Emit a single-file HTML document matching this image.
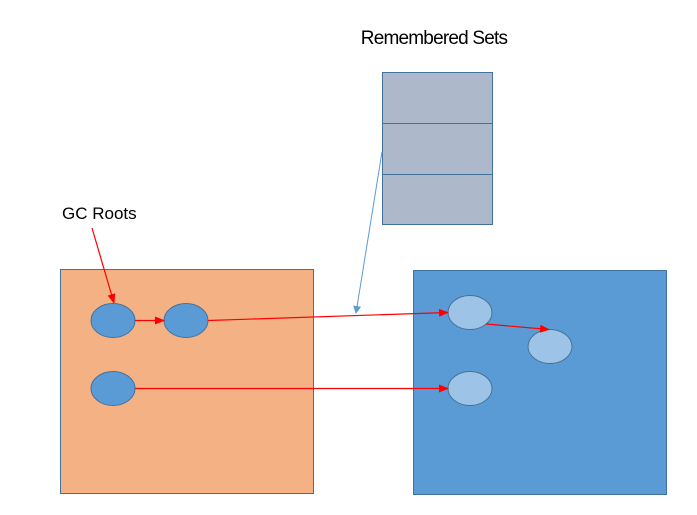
<!DOCTYPE html>
<html><head><meta charset="utf-8"><style>
html,body{margin:0;padding:0;background:#fff;}
svg{display:block;}
</style></head><body>
<svg width="697" height="515" viewBox="0 0 697 515" xmlns="http://www.w3.org/2000/svg">
<defs>
<marker id="ar" markerWidth="10" markerHeight="8" refX="9" refY="4" orient="auto" markerUnits="userSpaceOnUse"><path d="M0,0 L10,4 L0,8 z" fill="#ff0000"/></marker>
<marker id="ab" markerWidth="8" markerHeight="10" refX="7" refY="5" orient="auto" markerUnits="userSpaceOnUse"><path d="M0,1 L8,5 L0,9 z" fill="#5b9bd5"/></marker>
</defs>
<text x="434" y="44" text-anchor="middle" font-family="Liberation Sans, sans-serif" font-size="19" letter-spacing="-0.8" fill="#000">Remembered Sets</text>
<text x="62" y="219" font-family="Liberation Sans, sans-serif" font-size="17" fill="#000">GC Roots</text>
<rect x="382.5" y="72.5" width="110" height="152" fill="#adb9ca" stroke="#41719c" stroke-width="1"/>
<line x1="382.5" y1="123.5" x2="492.5" y2="123.5" stroke="#41719c"/>
<line x1="382.5" y1="174.5" x2="492.5" y2="174.5" stroke="#41719c"/>
<rect x="60.5" y="269.5" width="253" height="224" fill="#f4b183" stroke="#41719c"/>
<rect x="413.5" y="270.5" width="253" height="224" fill="#5b9bd5" stroke="#41719c"/>
<line x1="382" y1="152" x2="356" y2="313" stroke="#5b9bd5" stroke-width="1" marker-end="url(#ab)"/>
<line x1="92" y1="228" x2="114" y2="303" stroke="#ff0000" stroke-width="1.2" marker-end="url(#ar)"/>
<ellipse cx="113" cy="320.5" rx="22" ry="17" fill="#5b9bd5" stroke="#41719c"/>
<ellipse cx="186" cy="320.5" rx="22" ry="17" fill="#5b9bd5" stroke="#41719c"/>
<ellipse cx="113" cy="388.5" rx="22" ry="17" fill="#5b9bd5" stroke="#41719c"/>
<ellipse cx="470" cy="312.5" rx="22" ry="17" fill="#9dc3e6" stroke="#41719c"/>
<ellipse cx="550" cy="346.5" rx="22" ry="17" fill="#9dc3e6" stroke="#41719c"/>
<ellipse cx="470" cy="388.5" rx="22" ry="17" fill="#9dc3e6" stroke="#41719c"/>
<line x1="135" y1="320.5" x2="164" y2="320.5" stroke="#ff0000" stroke-width="1.2" marker-end="url(#ar)"/>
<line x1="208" y1="320.5" x2="448" y2="312.5" stroke="#ff0000" stroke-width="1.2" marker-end="url(#ar)"/>
<line x1="135" y1="388.5" x2="448" y2="388.5" stroke="#ff0000" stroke-width="1.2" marker-end="url(#ar)"/>
<line x1="486" y1="324" x2="549" y2="329.5" stroke="#ff0000" stroke-width="1.2" marker-end="url(#ar)"/>
</svg>
</body></html>
